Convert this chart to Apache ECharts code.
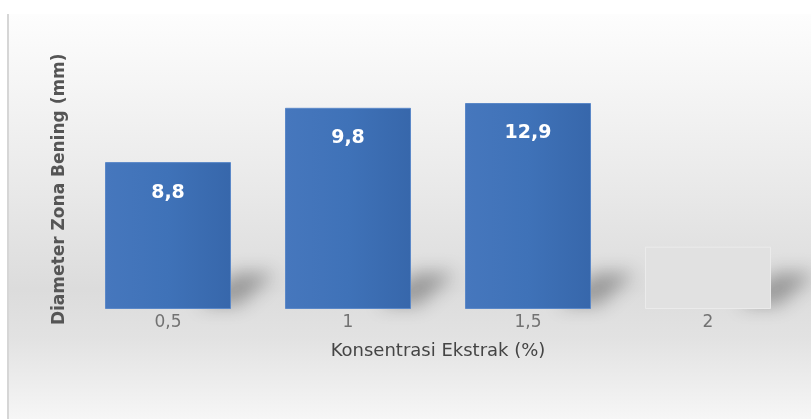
<!DOCTYPE html>
<html>
<head>
<meta charset="utf-8">
<script src="https://cdn.jsdelivr.net/npm/echarts@6/dist/echarts.min.js"></script>
<style>
  html, body { margin: 0; padding: 0; background: #ffffff; }
  .frame {
    position: absolute; left: 7px; top: 14px; width: 804px; height: 405px;
    border-left: 2px solid #d6d6d6;
    background: linear-gradient(to bottom, #fdfdfd 0%, #f5f5f5 18%, #e8e8e8 45%, #dcdcdc 68%, #e2e2e2 80%, #f6f6f6 100%);
  }
  #chart { position: absolute; left: 0; top: 0; width: 811px; height: 419px; }
</style>
</head>
<body>
<div class="frame"></div>
<div id="chart"></div>
<script>
// konsentrasi ekstrak (%)
const categories = ['0,5', '1', '1,5', '2']
// bar heights as drawn in the picture (the drawing is not to scale with the printed labels)
const barHeights = [9.2, 12.6, 12.9, 3.9]
// value labels as printed on the bars
const valueLabels = ['8,8', '9,8', '12,9', '']

const chart = echarts.init(document.getElementById('chart'))

const blue = {
  type: 'linear', x: 0, y: 0, x2: 1, y2: 0,
  colorStops: [
    { offset: 0, color: '#4677bd' },
    { offset: 0.5, color: '#3f72b8' },
    { offset: 1, color: '#3767ab' }
  ]
}

// soft perspective shadow on the floor: the shape sits behind the bar,
// only its blurred, offset shadow shows to the right
function renderShadow(params, api) {
  const base = api.coord([api.value(0), 0])
  const w = api.size([1, 0])[0] * 0.7
  const R = base[0] + w / 2
  const B = base[1]
  return {
    type: 'polygon',
    shape: { points: [[R - 80, B - 4], [R - 40, B - 4], [R - 4, B - 36], [R - 44, B - 36]] },
    style: {
      fill: '#808080',
      shadowBlur: 18,
      shadowOffsetX: 48,
      shadowOffsetY: 0,
      shadowColor: 'rgba(50,50,50,0.4)'
    }
  }
}

const option = {
  animation: false,
  backgroundColor: 'transparent',
  textStyle: { fontFamily: 'DejaVu Sans, sans-serif' },
  grid: { left: 78, right: 13, top: 69.5, bottom: 110 },
  xAxis: {
    type: 'category',
    data: categories,
    name: 'Konsentrasi Ekstrak (%)',
    nameLocation: 'middle',
    nameGap: 33,
    nameTextStyle: { color: '#454545', fontSize: 18 },
    axisLine: { show: false },
    axisTick: { show: false },
    axisLabel: { color: '#727272', fontSize: 17, margin: 5 }
  },
  yAxis: {
    type: 'value',
    min: 0,
    max: 15,
    name: 'Diameter Zona Bening (mm)',
    nameLocation: 'middle',
    nameGap: 10,
    nameRotate: 90,
    nameTextStyle: { color: '#555555', fontSize: 17, fontWeight: 'bold' },
    axisLine: { show: false },
    axisTick: { show: false },
    axisLabel: { show: false },
    splitLine: { show: false }
  },
  series: [
    {
      type: 'custom',
      renderItem: renderShadow,
      data: barHeights.map((v, i) => [i, v]),
      encode: { x: 0, y: 1 },
      z: 1,
      silent: true
    },
    {
      type: 'bar',
      barCategoryGap: '30%',
      z: 2,
      data: barHeights.map((v, i) => {
        if (i === 3) {
          return {
            value: v,
            itemStyle: { color: '#e1e1e1', borderColor: '#ebebeb', borderWidth: 1 },
            label: { show: false }
          }
        }
        return v
      }),
      itemStyle: {
        color: blue,
        borderColor: '#5b88c8',
        borderWidth: 1
      },
      label: {
        show: true,
        position: 'insideTop',
        distance: 21,
        color: '#ffffff',
        fontSize: 19,
        fontWeight: 'bold',
        formatter: p => valueLabels[p.dataIndex]
      }
    }
  ]
}

chart.setOption(option)
</script>
</body>
</html>
